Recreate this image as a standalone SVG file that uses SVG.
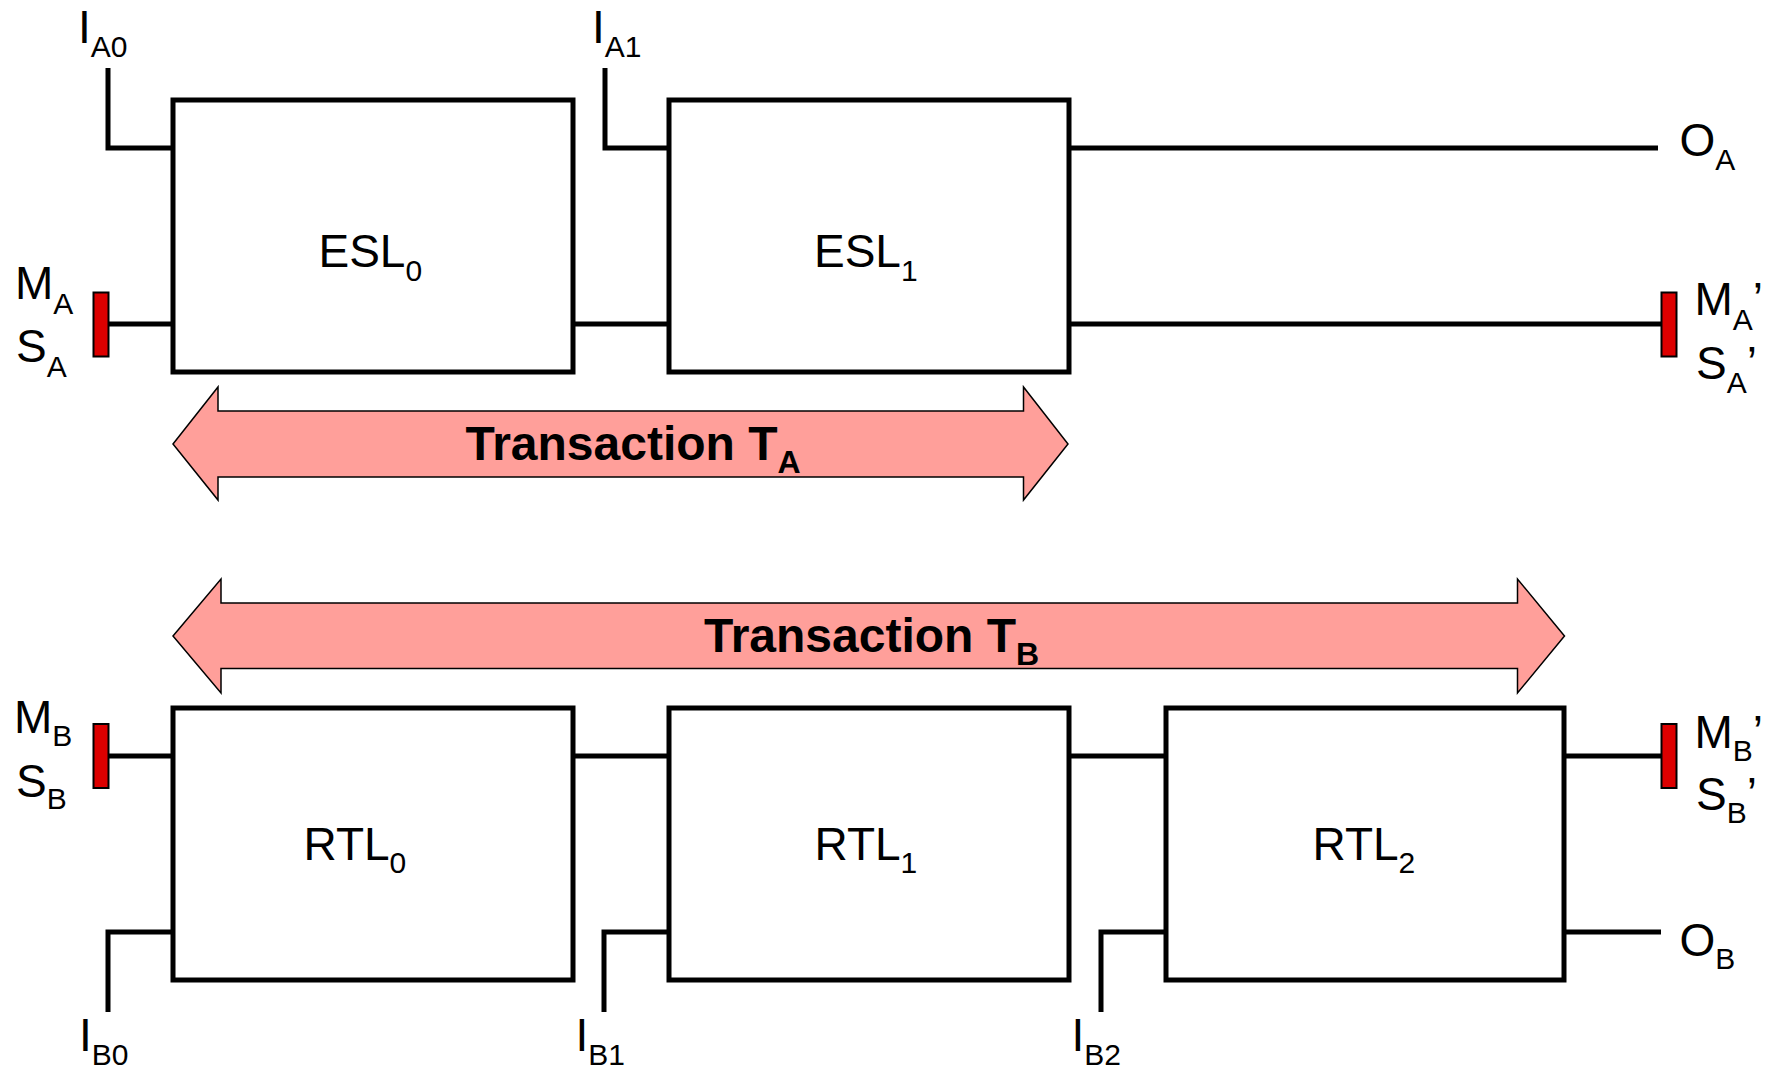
<svg xmlns="http://www.w3.org/2000/svg" width="1781" height="1071" viewBox="0 0 1781 1071">
  <style>
    .box { fill: #ffffff; stroke: #000000; stroke-width: 5; }
    .wire { fill: none; stroke: #000000; stroke-width: 5; stroke-linejoin: miter; stroke-linecap: butt; }
    .term { fill: #dd0000; stroke: #000000; stroke-width: 2; }
    .span { fill: #ff9f9a; stroke: #000000; stroke-width: 1.5; stroke-linejoin: miter; }
    .lbl { font-family: "Liberation Sans", Arial, Helvetica, sans-serif; font-size: 46px; fill: #000000; }
    .sub { font-size: 30px; }
    .tx { font-family: "Liberation Sans", Arial, Helvetica, sans-serif; font-size: 48px; font-weight: bold; fill: #000000; }
    .txsub { font-size: 32px; }
  </style>
  <rect width="1781" height="1071" fill="#ffffff"/>

  <!-- transaction spans -->
  <g id="transaction-a">
    <polygon class="span" points="173,444 218,387 218,411 1023.5,411 1023.5,387 1068,444 1023.5,500 1023.5,477 218,477 218,500"/>
    <text class="tx" x="465.5" y="460">Transaction T<tspan class="txsub" dy="13">A</tspan></text>
  </g>
  <g id="transaction-b">
    <polygon class="span" points="173,636 221,579 221,603 1517.5,603 1517.5,579 1564.5,636 1517.5,693 1517.5,668.5 221,668.5 221,693"/>
    <text class="tx" x="704" y="652">Transaction T<tspan class="txsub" dy="13">B</tspan></text>
  </g>

  <!-- connectors -->
  <g id="connectors">
    <path class="wire" d="M108,68 V148 H173"/>
    <path class="wire" d="M605,68 V148 H669"/>
    <path class="wire" d="M109,324 H173"/>
    <path class="wire" d="M573,324 H669"/>
    <path class="wire" d="M1069,324 H1661"/>
    <path class="wire" d="M1069,148 H1658"/>
    <path class="wire" d="M109,756 H173"/>
    <path class="wire" d="M573,756 H669"/>
    <path class="wire" d="M1069,756 H1166"/>
    <path class="wire" d="M1564,756 H1661"/>
    <path class="wire" d="M108,1012 V932 H173"/>
    <path class="wire" d="M604,1012 V932 H669"/>
    <path class="wire" d="M1101,1012 V932 H1166"/>
    <path class="wire" d="M1564,932 H1661"/>
  </g>

  <!-- upper chain -->
  <g id="esl0">
    <rect class="box" x="173" y="100" width="400" height="272"/>
    <text class="lbl" x="318.5" y="267">ESL<tspan class="sub" dy="14">0</tspan></text>
  </g>
  <g id="esl1">
    <rect class="box" x="669" y="100" width="400" height="272"/>
    <text class="lbl" x="814" y="267">ESL<tspan class="sub" dy="14">1</tspan></text>
  </g>

  <!-- lower chain -->
  <g id="rtl0">
    <rect class="box" x="173" y="708" width="400" height="272"/>
    <text class="lbl" x="303.5" y="860">RTL<tspan class="sub" dy="13">0</tspan></text>
  </g>
  <g id="rtl1">
    <rect class="box" x="669" y="708" width="400" height="272"/>
    <text class="lbl" x="814.5" y="860">RTL<tspan class="sub" dy="13">1</tspan></text>
  </g>
  <g id="rtl2">
    <rect class="box" x="1166" y="708" width="398" height="272"/>
    <text class="lbl" x="1312.5" y="860">RTL<tspan class="sub" dy="13">2</tspan></text>
  </g>

  <!-- terminals -->
  <g id="term-a-in">
    <rect class="term" x="93.5" y="292.5" width="15" height="64"/>
    <text class="lbl" x="15" y="299">M<tspan class="sub" dy="15">A</tspan></text>
    <text class="lbl" x="16" y="362">S<tspan class="sub" dy="15">A</tspan></text>
  </g>
  <g id="term-a-out">
    <rect class="term" x="1661.5" y="292.5" width="15" height="64"/>
    <text class="lbl" x="1694.5" y="315">M<tspan class="sub" dy="15">A</tspan><tspan dy="-15">’</tspan></text>
    <text class="lbl" x="1696" y="379">S<tspan class="sub" dy="14">A</tspan><tspan dy="-14">’</tspan></text>
  </g>
  <g id="term-b-in">
    <rect class="term" x="93.5" y="724" width="15" height="64"/>
    <text class="lbl" x="14" y="733">M<tspan class="sub" dy="13">B</tspan></text>
    <text class="lbl" x="16" y="797">S<tspan class="sub" dy="12">B</tspan></text>
  </g>
  <g id="term-b-out">
    <rect class="term" x="1661.5" y="724" width="15" height="64"/>
    <text class="lbl" x="1694.5" y="748">M<tspan class="sub" dy="13">B</tspan><tspan dy="-13">’</tspan></text>
    <text class="lbl" x="1696" y="810">S<tspan class="sub" dy="13">B</tspan><tspan dy="-13">’</tspan></text>
  </g>

  <!-- inputs and outputs -->
  <g id="in-a0"><text class="lbl" x="78" y="43">I<tspan class="sub" dy="14">A0</tspan></text></g>
  <g id="in-a1"><text class="lbl" x="592" y="43">I<tspan class="sub" dy="14">A1</tspan></text></g>
  <g id="out-a"><text class="lbl" x="1679.5" y="156">O<tspan class="sub" dy="14">A</tspan></text></g>
  <g id="in-b0"><text class="lbl" x="79" y="1051">I<tspan class="sub" dy="14">B0</tspan></text></g>
  <g id="in-b1"><text class="lbl" x="575.5" y="1051">I<tspan class="sub" dy="14">B1</tspan></text></g>
  <g id="in-b2"><text class="lbl" x="1071.5" y="1051">I<tspan class="sub" dy="14">B2</tspan></text></g>
  <g id="out-b"><text class="lbl" x="1679.5" y="956">O<tspan class="sub" dy="13">B</tspan></text></g>
</svg>
